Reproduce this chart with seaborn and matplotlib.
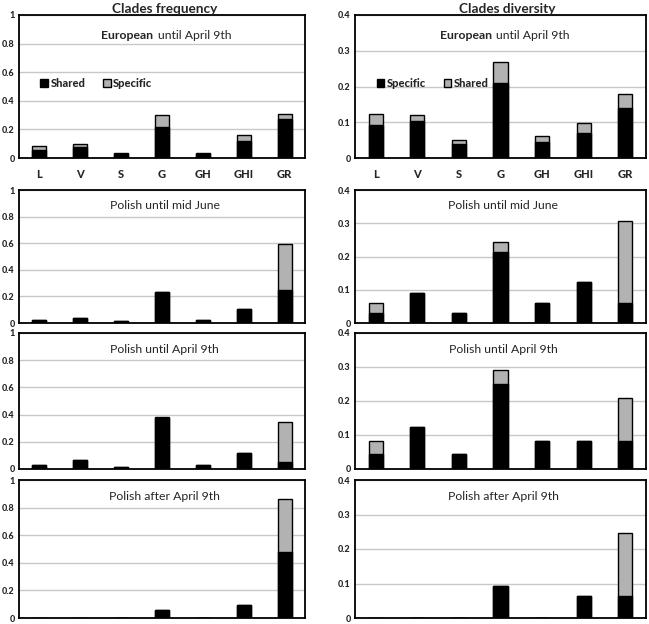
import numpy as np
import pandas as pd
import matplotlib
matplotlib.use("Agg")
import matplotlib.pyplot as plt
from matplotlib.patches import Patch
import seaborn as sns

sns.set_theme(style="white")
plt.rcParams['font.family'] = ['Lato', 'DejaVu Sans']

clades = ["L", "V", "S", "G", "GH", "GHI", "GR"]

# Clades frequency: black = Shared, gray = Specific (stacked on top)
freq_eu_shared   = [0.055, 0.080, 0.030, 0.220, 0.025, 0.120, 0.270]
freq_eu_specific = [0.030, 0.017, 0.003, 0.078, 0.010, 0.040, 0.040]
freq_pl_june_shared   = [0.022, 0.035, 0.012, 0.230, 0.022, 0.105, 0.250]
freq_pl_june_specific = [0.000, 0.000, 0.000, 0.000, 0.000, 0.000, 0.343]
freq_pl_before_shared   = [0.027, 0.064, 0.017, 0.372, 0.030, 0.119, 0.052]
freq_pl_before_specific = [0.003, 0.000, 0.000, 0.012, 0.000, 0.000, 0.297]
freq_pl_after_shared   = [0.000, 0.000, 0.000, 0.055, 0.000, 0.095, 0.475]
freq_pl_after_specific = [0.000, 0.000, 0.000, 0.000, 0.000, 0.000, 0.385]

# Clades diversity: black = Specific, gray = Shared (stacked on top)
div_eu_specific = [0.092, 0.103, 0.039, 0.209, 0.046, 0.069, 0.141]
div_eu_shared   = [0.032, 0.016, 0.010, 0.060, 0.016, 0.028, 0.039]
div_pl_june_specific = [0.030, 0.091, 0.030, 0.215, 0.060, 0.123, 0.061]
div_pl_june_shared   = [0.030, 0.000, 0.000, 0.029, 0.000, 0.000, 0.245]
div_pl_before_specific = [0.044, 0.125, 0.044, 0.250, 0.083, 0.083, 0.083]
div_pl_before_shared   = [0.039, 0.000, 0.000, 0.040, 0.000, 0.000, 0.125]
div_pl_after_specific = [0.000, 0.000, 0.000, 0.093, 0.000, 0.063, 0.063]
div_pl_after_shared   = [0.000, 0.000, 0.000, 0.000, 0.000, 0.000, 0.183]

panel_titles = [("European", "until April 9th"),
                (None, "Polish until mid June"),
                (None, "Polish until April 9th"),
                (None, "Polish after April 9th")]

freq_data = [(freq_eu_shared, freq_eu_specific),
             (freq_pl_june_shared, freq_pl_june_specific),
             (freq_pl_before_shared, freq_pl_before_specific),
             (freq_pl_after_shared, freq_pl_after_specific)]
div_data = [(div_eu_specific, div_eu_shared),
            (div_pl_june_specific, div_pl_june_shared),
            (div_pl_before_specific, div_pl_before_shared),
            (div_pl_after_specific, div_pl_after_shared)]

W, H = 649, 624
fig = plt.figure(figsize=(W / 100, H / 100), dpi=100)

rows_px = [(15, 158), (190, 323), (333, 469), (480, 618)]
cols_px = [(19, 305), (355, 646)]

BLACK = "#000000"
GRAY = "#b2b2b2"

def make_ax(col, row):
    x0, x1 = cols_px[col]
    t, b = rows_px[row]
    return fig.add_axes([x0 / W, 1 - b / H, (x1 - x0) / W, (b - t) / H])

for col, (data, ymax, yticks, ylabels, leg_names) in enumerate([
        (freq_data, 1.0, [0, 0.2, 0.4, 0.6, 0.8, 1.0],
         ["0", "0.2", "0.4", "0.6", "0.8", "1"], ("Shared", "Specific")),
        (div_data, 0.4, [0, 0.1, 0.2, 0.3, 0.4],
         ["0", "0.1", "0.2", "0.3", "0.4"], ("Specific", "Shared"))]):
    for row in range(4):
        ax = make_ax(col, row)
        low, top = data[row]
        total = [a + b for a, b in zip(low, top)]
        df = pd.DataFrame({"clade": clades, "low": low, "total": total})
        sns.barplot(data=df, x="clade", y="total", order=clades, color=GRAY,
                    saturation=1, edgecolor="black", linewidth=1.0, width=0.34,
                    errorbar=None, ax=ax, zorder=3)
        sns.barplot(data=df, x="clade", y="low", order=clades, color=BLACK,
                    saturation=1, edgecolor="black", linewidth=1.0, width=0.34,
                    errorbar=None, ax=ax, zorder=4)
        ax.set_xlim(-0.5, 6.5)
        ax.set_ylim(0, ymax)
        ax.set_yticks(yticks)
        ax.set_yticklabels(ylabels, fontsize=6.5, fontweight="black")
        ax.set_xlabel("")
        ax.set_ylabel("")
        ax.yaxis.grid(True, color="#c8c8c8", linewidth=1.0, zorder=0)
        ax.set_axisbelow(True)
        ax.tick_params(axis="both", length=0, pad=3)
        for sp in ax.spines.values():
            sp.set_color("black")
            sp.set_linewidth(1.3)
        if row == 0:
            ax.set_xticks(range(len(clades)))
            ax.set_xticklabels(clades, fontsize=8, fontweight="black")
            ax.tick_params(axis="x", pad=8)
            handles = [Patch(facecolor=BLACK, edgecolor="black"),
                       Patch(facecolor=GRAY, edgecolor="black")]
            ax.legend(handles, leg_names, loc="center left",
                      bbox_to_anchor=(0.04, 0.52), ncol=2, frameon=False,
                      handlelength=0.7, handleheight=0.7, handletextpad=0.2,
                      columnspacing=1.6,
                      prop={"size": 8, "weight": "black"})
        else:
            ax.set_xticks([])
        bold_part, normal_part = panel_titles[row]
        ty = 0.86 if row == 0 else 0.88
        if bold_part:
            ax.text(0.47, ty, bold_part, transform=ax.transAxes, ha="right",
                    va="center", fontsize=8.8, fontweight="bold")
            ax.text(0.485, ty, normal_part, transform=ax.transAxes, ha="left",
                    va="center", fontsize=8.8)
        else:
            ax.text(0.51, ty, normal_part, transform=ax.transAxes, ha="center",
                    va="center", fontsize=8.8)

fig.text(165 / W, 1 - 9 / H, "Clades frequency", ha="center", va="center",
         fontsize=9.8, fontweight="bold")
fig.text(507 / W, 1 - 9 / H, "Clades diversity", ha="center", va="center",
         fontsize=9.8, fontweight="bold")

fig.savefig("out.png", dpi=100)
